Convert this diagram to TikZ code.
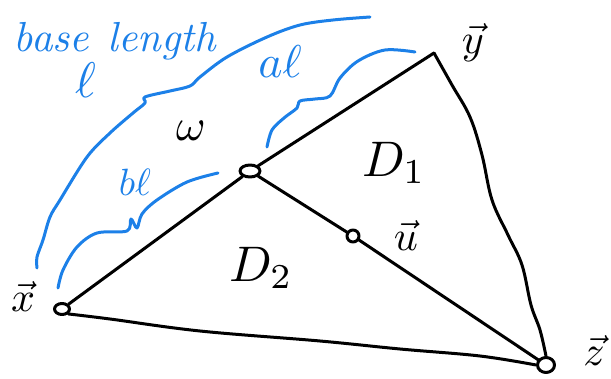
\documentclass[tikz,border=0pt]{standalone}
\usetikzlibrary{shapes.geometric}
\definecolor{pen}{RGB}{28,128,232}
\begin{document}
\begin{tikzpicture}[x=1pt,y=-1pt,line cap=round,line join=round,
  edge/.style={line width=3pt,black},
  bracepath/.style={line width=3pt,pen},
  vtx/.style={ellipse,draw,line width=3pt,inner sep=0pt,fill=white},
  veclbl/.style={inner sep=0pt,scale=4.2},
  dlbl/.style={inner sep=0pt,scale=5},
  bluetxt/.style={inner sep=0pt,text=pen}]
\useasboundingbox (0,0) rectangle (611,379);
% vertices
\coordinate (Y) at (434,53);
\node[vtx,minimum width=15pt,minimum height=11pt] (X) at (62,309) {};
\node[vtx,minimum width=20pt,minimum height=12pt] (M) at (250,171) {};
\node[vtx,minimum width=12pt,minimum height=12pt] (U) at (353,236) {};
\node[vtx,minimum width=17pt,minimum height=15pt] (Z) at (546,365) {};
% edges
\draw[edge] (X) -- (M);
\draw[edge] (M) -- (Y);
\draw[edge] (M) -- (U);
\draw[edge] (U) -- (Z);
\draw[edge] plot[smooth,tension=0.6] coordinates {(Y) (452,85) (470,117) (482,155) (492,200) (508,235) (522,265) (531,305) (540,330) (Z.north)};
\draw[edge] plot[smooth,tension=0.6] coordinates {(X.south east) (110,319) (200,331) (320,341) (400,349) (480,356) (Z.west)};
% blue braces
\draw[bracepath] plot[smooth,tension=0.55] coordinates {(37,268) (37,257) (43,240) (50,217) (60,200) (87,157) (110,133) (133,113) (145,103) (145,97) (170,91) (190,86) (200,77) (227,57) (267,37) (300,25) (333,20) (370,17)};
\draw[bracepath] plot[smooth,tension=0.55] coordinates {(58,288) (63,270) (77,247) (97,233) (127,231) (131,219) (137,228) (142,214) (157,200) (187,182) (218,173)};
\draw[bracepath] plot[smooth,tension=0.55] coordinates {(267,147) (272,130) (284,118) (297,108) (300,101) (315,99) (330,96) (340,78) (358,61) (385,50) (415,52)};
% labels
\node[bluetxt,scale=4.2,anchor=base west] (base) at (13,52) {\textit{base\hspace{0.45em}length}};
\node[bluetxt,scale=5] (ell) at (86,80) {$\ell$};
\node[bluetxt,scale=4.6] (al) at (280,62) {$a\ell$};
\node[bluetxt,scale=3.8] (bl) at (135,182) {$b\ell$};
\node[inner sep=0pt,scale=4.5] (w) at (191,131) {$\omega$};
\node[dlbl] (D1) at (394,163) {$D_1$};
\node[dlbl] (D2) at (261,268) {$D_2$};
\node[veclbl] (lx) at (23,296) {$\vec{x}$};
\node[veclbl] (ly) at (473,43) {$\vec{y}$};
\node[veclbl] (lz) at (594,350) {$\vec{z}$};
\node[veclbl] (lu) at (406,235) {$\vec{u}$};
\end{tikzpicture}
\end{document}
